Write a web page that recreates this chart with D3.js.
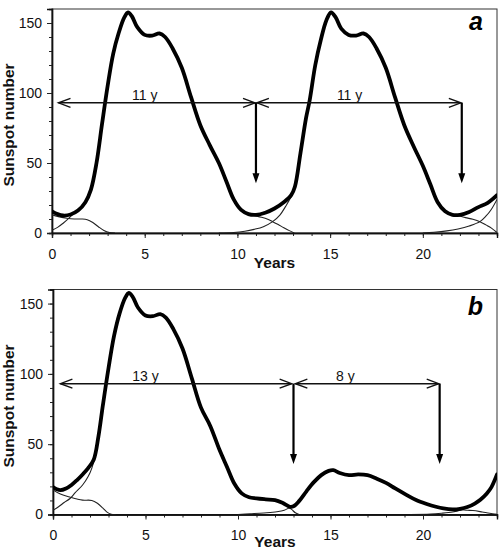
<!DOCTYPE html>
<html>
<head>
<meta charset="utf-8">
<script src="https://cdn.jsdelivr.net/npm/d3@7"></script>
<style>
  html, body { margin: 0; padding: 0; background: #fff; }
  svg { display: block; font-family: "Liberation Sans", Arial, Helvetica, sans-serif; }
</style>
</head>
<body>
<svg id="chart" width="502" height="548"></svg>
<script>
// ---------------- DATA ----------------
const xTicksMajor = [0, 5, 10, 15, 20];
const yTicksMajor = [0, 50, 100, 150];
const xLabel = "Years";
const yLabel = "Sunspot number";

// Panel a: thick total curve [year, sunspot number]
const aTotal = [[0,15.5],[0.3,13.5],[0.6,12.5],[1.0,13.2],[1.4,16],[1.8,22],[2.1,31],[2.4,50],[2.7,78],[3.0,105],[3.3,128],[3.6,143],[3.9,154],[4.1,157.5],[4.3,155],[4.6,147],[5.0,141.5],[5.4,141],[5.8,142.5],[6.1,140],[6.5,132],[7.0,118],[7.5,97],[8.0,77],[8.5,63],[9.0,50],[9.4,37],[9.8,24],[10.2,16.5],[10.6,13.5],[11.0,13],[11.5,14.5],[12.0,17.5],[12.5,22],[12.9,27],[13.1,33],[13.4,57],[13.7,82],[13.9,95],[14.2,120],[14.5,138],[14.8,152],[15.05,157.5],[15.3,154],[15.6,146],[16.0,141.5],[16.4,141],[16.8,142.5],[17.1,140],[17.5,132],[18.0,118],[18.5,97],[19.0,77],[19.5,62],[20.0,48],[20.4,35],[20.8,22],[21.2,15.5],[21.6,13],[22.0,13],[22.5,15],[23.0,18.5],[23.5,21.5],[24.0,27]];
// Panel a: thin individual-cycle curves
const aTail0 = [[0,13],[0.4,11.5],[0.8,10.5],[1.2,10],[1.6,10],[1.9,9.5],[2.2,7.5],[2.5,4.5],[2.8,1.8],[3.1,0.3],[3.4,0]];
const aRise1 = [[0,2],[0.3,4],[0.6,7],[0.9,10.5],[1.1,13],[1.4,16]];
const aTail1 = [[10.6,13.5],[10.9,12.5],[11.3,11.2],[11.6,10],[11.9,8.1],[12.2,6],[12.5,3.8],[12.8,1.7],[13.07,0]];
const aRise2 = [[9.0,0],[9.8,0.4],[10.4,1.3],[10.9,2.6],[11.4,4.5],[11.9,8.1],[12.3,13],[12.6,19],[12.9,26],[13.1,33]];
const aTail2 = [[21.6,13],[21.9,12.5],[22.3,11],[22.7,9.8],[23.08,8.1],[23.4,5.8],[23.7,3.5],[24.0,0.3]];
const aRise3 = [[20.0,0],[20.6,0.5],[21.3,1.5],[21.9,2.9],[22.5,5],[23.08,8.1],[23.4,12],[23.7,17],[24.0,24]];

// Panel b: thick total curve
const bTotal = [[0,19.5],[0.2,18],[0.4,17.3],[0.7,18.5],[1.0,21],[1.3,24.5],[1.6,28.5],[1.9,33],[2.2,39],[2.45,55],[2.7,78],[3.0,104],[3.3,127],[3.6,143],[3.9,154],[4.1,157.5],[4.3,155],[4.6,147],[5.0,141.5],[5.4,141],[5.8,142.5],[6.1,140],[6.5,132],[7.0,118],[7.5,97],[8.0,76],[8.5,63],[9.0,46],[9.4,34],[9.8,22],[10.2,15],[10.6,12.3],[11.0,11.5],[11.5,10.8],[12.0,10.2],[12.4,8.3],[12.8,5.5],[13.0,5.8],[13.3,9.5],[13.7,16.5],[14.1,23],[14.5,28],[14.9,31],[15.15,31.5],[15.5,29.5],[16.0,28],[16.5,28.5],[17.0,28],[17.5,25.5],[18.0,22.5],[18.5,18.5],[19.1,14],[19.6,10.5],[20.2,7.5],[20.7,5.5],[21.1,4.3],[21.6,3.6],[22.0,4],[22.4,5.3],[22.8,7.8],[23.1,10.5],[23.45,15],[23.7,19.5],[24.0,28.5]];
// Panel b: thin individual-cycle curves
const bTail0 = [[0,17.5],[0.4,14.5],[0.9,12.5],[1.3,11],[1.6,10.2],[2.1,10],[2.4,8],[2.7,4.5],[2.9,1.9],[3.15,0.2],[3.4,0]];
const bRise1 = [[0,3],[0.3,5.5],[0.6,8.5],[0.92,11.4],[1.2,15.5],[1.6,21],[1.9,27],[2.1,33],[2.25,41]];
const bTail1 = [[11.9,10.2],[12.3,8.8],[12.6,6.5],[12.9,3.6],[13.1,1.2],[13.3,0]];
const bRise2 = [[10.0,0],[10.65,0.5],[11.4,1.1],[12.1,1.9],[12.5,3],[12.8,5],[13.05,6.3]];
const bTail2 = [[21.6,3.6],[22.0,3.4],[22.4,3.0],[22.7,2.8],[23.2,1.8],[23.6,0.9],[24.0,0.2]];
const bRise3 = [[19.3,0],[20.4,0.3],[21.0,0.9],[21.6,1.8],[22.0,3],[22.35,5]];

// Period arrows: horizontal span at level, label position, vertical drop
const aArrows = [
  {from: 0.35, to: 10.95, level: 93, label: "11 y", labelX: 5.0, dropX: 11.0, dropTo: 35.5},
  {from: 11.05, to: 22.05, level: 93, label: "11 y", labelX: 16.05, dropX: 22.1, dropTo: 35.5}
];
const bArrows = [
  {from: 0.4, to: 12.9, level: 93, label: "13 y", labelX: 5.0, dropX: 13.0, dropTo: 36},
  {from: 13.1, to: 20.85, level: 93, label: "8 y", labelX: 15.8, dropX: 20.9, dropTo: 36}
];

// ---------------- DRAW ----------------
const svg = d3.select("#chart");

function drawPanel(cfg) {
  const W = cfg.right - cfg.left, H = cfg.bottom - cfg.top;
  const x = d3.scaleLinear().domain([0, 24]).range([0, W]);
  const y = d3.scaleLinear().domain([0, 160]).range([H, 0]);
  const g = svg.append("g").attr("transform", `translate(${cfg.left},${cfg.top})`);

  // frame
  g.append("rect").attr("x", 0).attr("y", 0).attr("width", W).attr("height", H)
    .attr("fill", "none").attr("stroke", "#333").attr("stroke-width", 1);

  // clip
  const clipId = "clip" + cfg.name;
  g.append("clipPath").attr("id", clipId).append("rect")
    .attr("x", 0).attr("y", -2).attr("width", W).attr("height", H + 2);

  // axes
  const xMinor = d3.axisBottom(x).tickValues(d3.range(0, 25, 1)).tickSize(3).tickFormat("");
  const xMajor = d3.axisBottom(x).tickValues(xTicksMajor).tickSize(5).tickPadding(11);
  const yMinor = d3.axisLeft(y).tickValues(d3.range(0, 161, 10)).tickSize(3).tickFormat("");
  const yMajor = d3.axisLeft(y).tickValues(yTicksMajor).tickSize(5).tickPadding(5);

  [xMinor, xMajor].forEach(ax => {
    const a = g.append("g").attr("transform", `translate(0,${H})`).call(ax);
    a.select(".domain").attr("stroke", "#111").attr("stroke-width", 1.4);
    a.selectAll(".tick line").attr("stroke", "#222").attr("stroke-width", 1);
    a.selectAll("text").attr("font-size", 14).attr("fill", "#111")
      .attr("font-family", "Liberation Sans, Arial, sans-serif");
  });
  [yMinor, yMajor].forEach(ax => {
    const a = g.append("g").call(ax);
    a.select(".domain").attr("stroke", "#111").attr("stroke-width", 1.4);
    a.selectAll(".tick line").attr("stroke", "#222").attr("stroke-width", 1);
    a.selectAll("text").attr("font-size", 14).attr("fill", "#111")
      .attr("font-family", "Liberation Sans, Arial, sans-serif");
  });

  const line = d3.line().x(d => x(d[0])).y(d => y(d[1])).curve(d3.curveCatmullRom.alpha(0.5));
  const curves = g.append("g").attr("clip-path", `url(#${clipId})`);

  cfg.thin.forEach(s => {
    curves.append("path").datum(s).attr("d", line)
      .attr("fill", "none").attr("stroke", "#222").attr("stroke-width", 1.1);
  });
  curves.append("path").datum(cfg.total).attr("d", line)
    .attr("fill", "none").attr("stroke", "#000").attr("stroke-width", 3.8)
    .attr("stroke-linejoin", "round").attr("stroke-linecap", "round");

  // arrows
  cfg.arrows.forEach(a => {
    const yl = y(a.level);
    const x0 = x(a.from), x1 = x(a.to);
    g.append("line").attr("x1", x0).attr("x2", x1).attr("y1", yl).attr("y2", yl)
      .attr("stroke", "#111").attr("stroke-width", 1.4);
    // open chevrons
    g.append("path").attr("d", `M${x0 + 12},${yl - 4.5} L${x0},${yl} L${x0 + 12},${yl + 4.5}`)
      .attr("fill", "none").attr("stroke", "#111").attr("stroke-width", 1.4);
    g.append("path").attr("d", `M${x1 - 12},${yl - 4.5} L${x1},${yl} L${x1 - 12},${yl + 4.5}`)
      .attr("fill", "none").attr("stroke", "#111").attr("stroke-width", 1.4);
    // label
    g.append("text").attr("x", x(a.labelX)).attr("y", yl - 3)
      .attr("text-anchor", "middle").attr("font-size", 14).attr("fill", "#111").text(a.label);
    // vertical drop arrow
    const xd = x(a.dropX), yTip = y(a.dropTo);
    g.append("line").attr("x1", xd).attr("x2", xd).attr("y1", yl).attr("y2", yTip - 8)
      .attr("stroke", "#000").attr("stroke-width", 2.2);
    g.append("path").attr("d", `M${xd - 3.5},${yTip - 10} L${xd},${yTip} L${xd + 3.5},${yTip - 10} Z`)
      .attr("fill", "#000");
  });

  // axis titles
  g.append("text").attr("x", W / 2).attr("y", H + cfg.xTitleDy)
    .attr("text-anchor", "middle").attr("font-size", 15.5).attr("font-weight", "bold")
    .attr("fill", "#111").text(xLabel);
  g.append("text").attr("transform", `translate(${14 - cfg.left},${H / 2 + 4}) rotate(-90)`)
    .attr("text-anchor", "middle").attr("font-size", 15.5).attr("font-weight", "bold")
    .attr("fill", "#111").text(yLabel);

  // panel letter
  g.append("text").attr("x", W - 14).attr("y", cfg.letterY)
    .attr("text-anchor", "end").attr("font-size", 25).attr("font-weight", "bold")
    .attr("font-style", "italic").attr("fill", "#000").text(cfg.letter);
}

drawPanel({name: "a", left: 52, right: 497, top: 9, bottom: 233,
  total: aTotal, thin: [aTail0, aRise1, aTail1, aRise2, aTail2, aRise3],
  arrows: aArrows, letter: "a", letterY: 21, xTitleDy: 35});
drawPanel({name: "b", left: 53, right: 497, top: 289.5, bottom: 514.5,
  total: bTotal, thin: [bTail0, bRise1, bTail1, bRise2, bTail2, bRise3],
  arrows: bArrows, letter: "b", letterY: 25.5, xTitleDy: 32});
</script>
</body>
</html>
